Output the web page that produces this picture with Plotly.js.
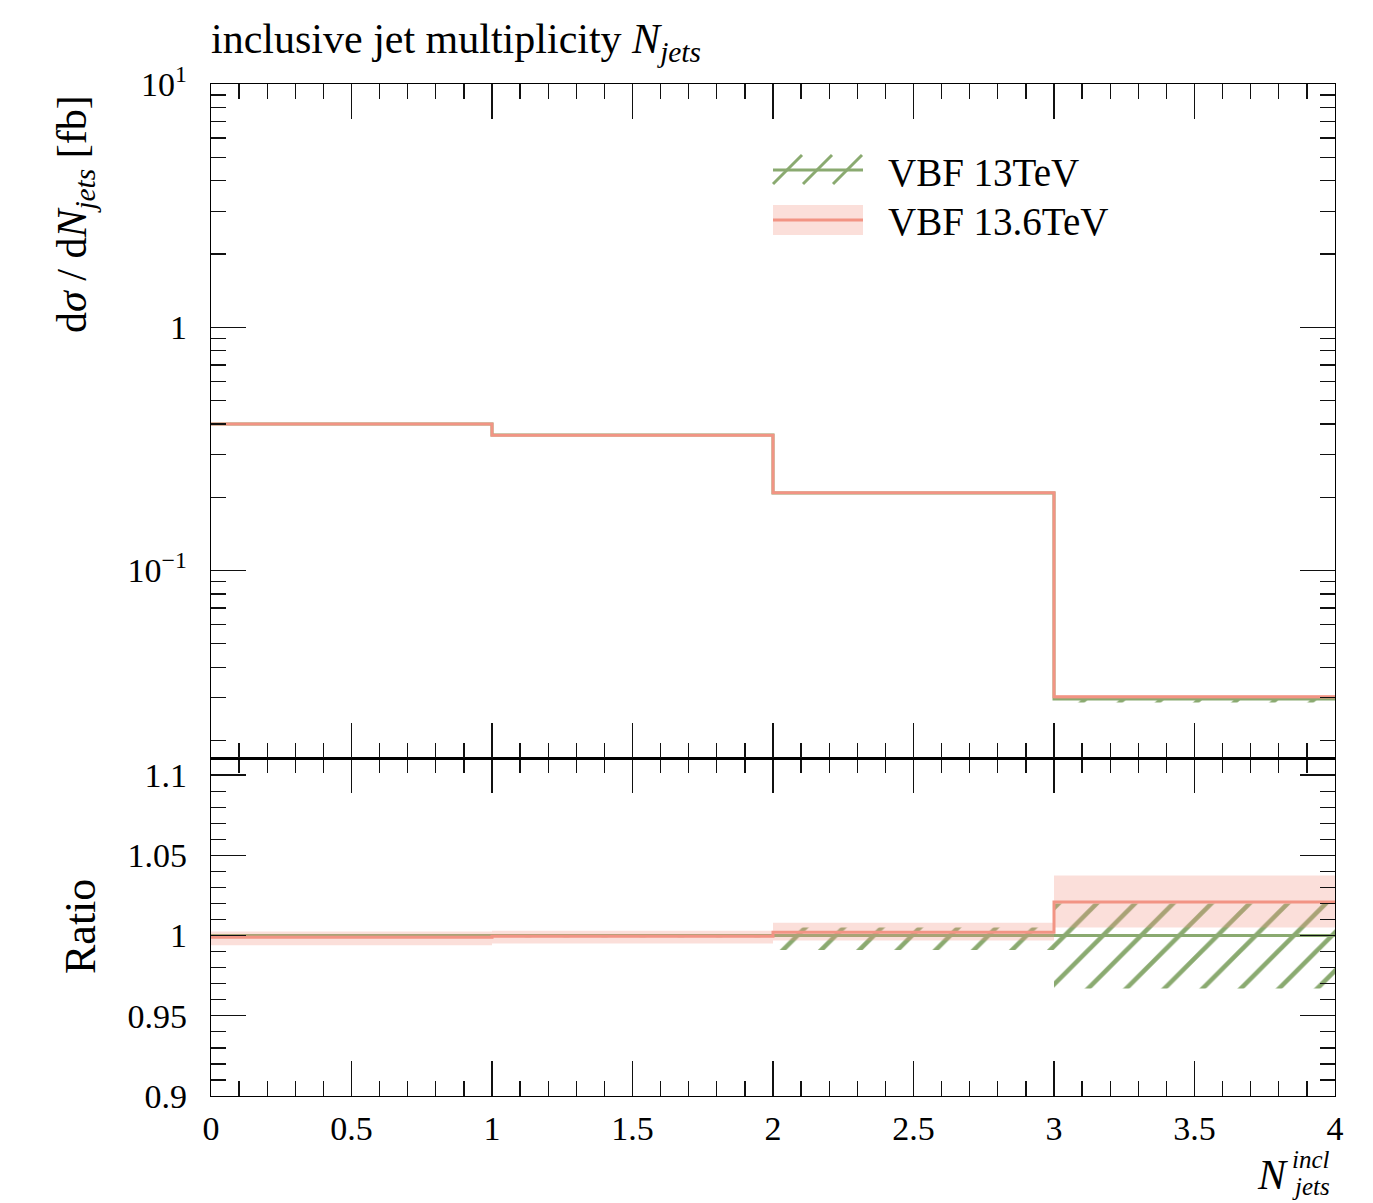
<!DOCTYPE html>
<html><head><meta charset="utf-8">
<script src="https://cdn.plot.ly/plotly-3.0.1.min.js"></script>
<style>body{margin:0;background:#fff}#chart{width:1373px;height:1203px}</style>
</head><body><div id="chart"></div>
<script>
// ---------------- data ----------------
const binEdges = [0, 1, 2, 3, 4];
const xTickVals = [0, 0.5, 1, 1.5, 2, 2.5, 3, 3.5, 4];
const xTickText = ['0', '0.5', '1', '1.5', '2', '2.5', '3', '3.5', '4'];
const mainTickVals = [0.1, 1, 10];
const mainTickText = ['10<sup>−1</sup>', '1', '10<sup>1</sup>'];
const ratioTickVals = [0.9, 0.95, 1, 1.05, 1.1];
const ratioTickText = ['0.9', '0.95', '1', '1.05', '1.1'];
const seriesNames = ['VBF 13TeV', 'VBF 13.6TeV'];

// main panel dσ/dN_jets [fb]
const xs13   = [0.400, 0.360, 0.208, 0.0296];
const xs13Lo = [0.3996, 0.3596, 0.2062, 0.0286];
const xs13Hi = [0.4004, 0.3604, 0.2090, 0.0302];
const xs136   = [0.3996, 0.3598, 0.2084, 0.0302];
const xs136Lo = [0.3976, 0.3582, 0.2074, 0.0297];
const xs136Hi = [0.4010, 0.3611, 0.2097, 0.0307];

// ratio panel
const r13   = [1, 1, 1, 1];
const r13Lo = [0.999, 0.999, 0.991, 0.967];
const r13Hi = [1.001, 1.001, 1.005, 1.020];
const r136   = [0.999, 0.9995, 1.002, 1.021];
const r136Lo = [0.994, 0.995, 0.997, 1.005];
const r136Hi = [1.0025, 1.003, 1.008, 1.0375];

// ---------------- style ----------------
const GREEN = 'rgb(138,170,112)';
const RED = 'rgb(242,148,132)';
const PINK = 'rgba(242,148,132,0.3)';
const FONT = 'Liberation Serif, DejaVu Serif, serif';

// canvas geometry (px)
const W = 1373, H = 1203;
const L = 211, R = 1335, T = 84, B = 1096, SPLIT = 758.3;
const px2x = p => (p - L) / (R - L);
const py2y = p => (B - p) / (B - T);

function step(v) { return v.concat([v[v.length - 1]]); }

function bandTraces(lo, hi, xa, ya, fillOpts) {
  return [
    {x: binEdges, y: step(lo), xaxis: xa, yaxis: ya, type: 'scatter', mode: 'lines',
     line: {shape: 'hv', width: 0, color: 'rgba(0,0,0,0)'}, showlegend: false, hoverinfo: 'skip'},
    Object.assign({x: binEdges, y: step(hi), xaxis: xa, yaxis: ya, type: 'scatter', mode: 'lines',
     line: {shape: 'hv', width: 0, color: 'rgba(0,0,0,0)'}, fill: 'tonexty', showlegend: false, hoverinfo: 'skip'}, fillOpts)
  ];
}
function lineTrace(v, xa, ya, color, name) {
  return {x: binEdges, y: step(v), xaxis: xa, yaxis: ya, type: 'scatter', mode: 'lines',
          line: {shape: 'hv', width: 3, color: color}, name: name, showlegend: false};
}
const greenFill = {fillcolor: 'rgba(0,0,0,0)',
  fillpattern: {shape: '/', fgcolor: GREEN, fgopacity: 1, bgcolor: 'rgba(0,0,0,0)', size: 27, solidity: 0.17, fillmode: 'overlay'}};
const redFill = {fillcolor: PINK};

const traces = [].concat(
  bandTraces(xs13Lo, xs13Hi, 'x2', 'y2', greenFill),
  [lineTrace(xs13, 'x2', 'y2', GREEN, seriesNames[0])],
  bandTraces(xs136Lo, xs136Hi, 'x2', 'y2', redFill),
  [lineTrace(xs136, 'x2', 'y2', RED, seriesNames[1])],
  bandTraces(r13Lo, r13Hi, 'x', 'y', greenFill),
  [lineTrace(r13, 'x', 'y', GREEN, seriesNames[0])],
  bandTraces(r136Lo, r136Hi, 'x', 'y', redFill),
  [lineTrace(r136, 'x', 'y', RED, seriesNames[1])]
);

// minor tick positions for log axis (2..9 per decade)
const logMinor = [];
[0.01, 0.1, 1].forEach(d => { for (let k = 2; k <= 9; k++) logMinor.push(+(k * d).toPrecision(3)); });

const axisCommon = {
  showline: true, linecolor: '#000', linewidth: 1.3, mirror: 'ticks',
  ticks: 'inside', ticklen: 35, tickwidth: 1.3, tickcolor: '#111',
  showgrid: false, zeroline: false,
  tickfont: {family: FONT, size: 34, color: '#000'}
};
const minorX = {ticks: 'inside', ticklen: 15, tickwidth: 1.3, tickcolor: '#111', dtick: 0.1, tick0: 0, showgrid: false};

const split = py2y(SPLIT);

// ---------------- legend keys (decoration, paper coords) ----------------
const shapes = [];
const keyL = 773, keyR = 863;
// green hatched key
const gTop = 155, gBot = 184, gMid = 170;
for (let x0 = keyL - 30; x0 < keyR; x0 += 30) {
  const h = gBot - gTop;
  const t0 = Math.max(0, (keyL - x0) / h), t1 = Math.min(1, (keyR - x0) / h);
  if (t0 < t1) {
    shapes.push({type: 'line', xref: 'paper', yref: 'paper',
      x0: px2x(x0 + h * t0), y0: py2y(gBot - h * t0), x1: px2x(x0 + h * t1), y1: py2y(gBot - h * t1),
      line: {color: GREEN, width: 3}});
  }
}
shapes.push({type: 'line', xref: 'paper', yref: 'paper', x0: px2x(keyL), x1: px2x(keyR), y0: py2y(gMid), y1: py2y(gMid),
  line: {color: GREEN, width: 3}});
// red key
shapes.push({type: 'rect', xref: 'paper', yref: 'paper', x0: px2x(keyL), x1: px2x(keyR), y0: py2y(235), y1: py2y(205),
  fillcolor: PINK, line: {width: 0}});
shapes.push({type: 'line', xref: 'paper', yref: 'paper', x0: px2x(keyL), x1: px2x(keyR), y0: py2y(220), y1: py2y(220),
  line: {color: RED, width: 3}});

const annFont = {family: FONT, size: 39, color: '#000'};
const annotations = [
  {xref: 'paper', yref: 'paper', x: px2x(886), y: py2y(172), xanchor: 'left', yanchor: 'middle',
   text: seriesNames[0], showarrow: false, font: annFont},
  {xref: 'paper', yref: 'paper', x: px2x(886), y: py2y(221), xanchor: 'left', yanchor: 'middle',
   text: seriesNames[1], showarrow: false, font: annFont},
  // y titles
  {xref: 'paper', yref: 'paper', x: px2x(75), y: py2y(214), xanchor: 'center', yanchor: 'middle', textangle: -90,
   text: 'd<i>σ</i> / d<i>N</i><sub><i>jets</i></sub> [fb]', showarrow: false, font: {family: FONT, size: 42, color: '#000'}},
  {xref: 'paper', yref: 'paper', x: px2x(80), y: py2y(927), xanchor: 'center', yanchor: 'middle', textangle: -90,
   text: 'Ratio', showarrow: false, font: {family: FONT, size: 44, color: '#000'}},
  // x title
  {xref: 'paper', yref: 'paper', x: px2x(1290), y: py2y(1175), xanchor: 'right', yanchor: 'middle',
   text: '<i>N</i>', showarrow: false, font: {family: FONT, size: 42, color: '#000'}},
  {xref: 'paper', yref: 'paper', x: px2x(1290), y: py2y(1159), xanchor: 'left', yanchor: 'middle',
   text: '<i>incl</i>', showarrow: false, font: {family: FONT, size: 25, color: '#000'}},
  {xref: 'paper', yref: 'paper', x: px2x(1290), y: py2y(1186), xanchor: 'left', yanchor: 'middle',
   text: '<i>jets</i>', showarrow: false, font: {family: FONT, size: 25, color: '#000'}}
];

const layout = {
  width: W, height: H,
  margin: {l: L, r: W - R, t: T, b: H - B, pad: 0},
  paper_bgcolor: '#fff', plot_bgcolor: '#fff',
  showlegend: false,
  title: {text: 'inclusive jet multiplicity <i>N</i><sub><i>jets</i></sub>',
          x: 0, xref: 'paper', xanchor: 'left', y: 1 - 38 / H, yref: 'container', yanchor: 'middle',
          font: {family: FONT, size: 42, color: '#000'}},
  xaxis: Object.assign({}, axisCommon, {domain: [0, 1], anchor: 'y', range: [0, 4],
    tickmode: 'array', tickvals: xTickVals, ticktext: xTickText, ticklabelstandoff: 2, minor: minorX}),
  yaxis: Object.assign({}, axisCommon, {domain: [0, split], anchor: 'x', range: [0.9, 1.1105],
    tickmode: 'array', tickvals: ratioTickVals, ticktext: ratioTickText, ticklabelstandoff: 16,
    minor: {ticks: 'inside', ticklen: 15, tickwidth: 1.3, tickcolor: '#111', dtick: 0.01, tick0: 0.9, showgrid: false}}),
  xaxis2: Object.assign({}, axisCommon, {domain: [0, 1], anchor: 'y2', matches: 'x', range: [0, 4],
    tickmode: 'array', tickvals: xTickVals, showticklabels: false, minor: minorX}),
  yaxis2: Object.assign({}, axisCommon, {domain: [split, 1], anchor: 'x2', type: 'log', range: [-1.7726, 1],
    tickmode: 'array', tickvals: mainTickVals, ticktext: mainTickText, ticklabelstandoff: 16,
    minor: {ticks: 'inside', ticklen: 15, tickwidth: 1.3, tickcolor: '#111', tickmode: 'array', tickvals: logMinor, showgrid: false}}),
  shapes: shapes,
  annotations: annotations
};

Plotly.newPlot('chart', traces, layout, {displayModeBar: false, staticPlot: true});
</script>
</body></html>
